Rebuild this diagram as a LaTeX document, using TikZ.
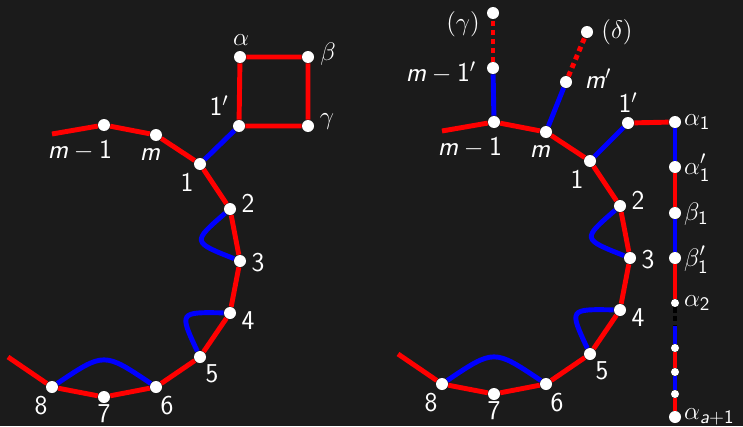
\documentclass[tikz,border=0pt]{standalone}
\usepackage{amsmath}
\usepackage{tikz}
\usetikzlibrary{positioning}
\definecolor{bgdark}{RGB}{27,27,27}
\newcommand\vm{\textsf{\itshape m}}
\newcommand\va{\textsf{\itshape a}}
\newcommand\one{\textsf{1}}

\begin{document}
\begin{tikzpicture}[
  x=0.02cm, y=-0.02cm,
  dot/.style={circle, fill=white, minimum size=0.24cm, inner sep=0pt},
  smalldot/.style={circle, fill=white, minimum size=0.16cm, inner sep=0pt},
  redline/.style={red, line width=2.8pt},
  blueline/.style={blue, line width=2.8pt},
  dotline/.style={red, line width=2.8pt, dash pattern=on 0.1cm off 0.08cm},
  lbl/.style={text=white, font=\fontsize{15.5}{18}\selectfont\sffamily, inner sep=1pt},
]
  \fill[bgdark] (0,0) rectangle (743,426);
  \useasboundingbox (0,0) rectangle (743,426);
  % the chain m-1, m, 1..8 with its blue loops; L on the left, R shifted right
  \foreach \p/\dx/\dy in {L/0/0, R/390/-3} {
    \begin{scope}[shift={(\dx,\dy)}]
      \coordinate (\p a) at (52,134);
      \coordinate (\p b) at (8,357);
      \foreach \n/\x/\y in {m1/104/125, m/156/135, 1/200/164, 2/230/209, 3/240/261,
                            4/230/313, 5/200/357, 6/156/387, 7/104/397, 8/52/387}
        \node[dot] (\p\n) at (\x,\y) {};
      \draw[redline] (\p a) -- (\p m1) -- (\p m) -- (\p 1) -- (\p 2) -- (\p 3) -- (\p 4)
        -- (\p 5) -- (\p 6) -- (\p 7) -- (\p 8) -- (\p b);
      \draw[blueline] (\p 2) .. controls (192,242) .. (\p 3);
      \draw[blueline] (\p 5) .. controls (179,312) .. (\p 4);
      \draw[blueline] (\p 8) .. controls (104,352) .. (\p 6);
      \foreach \n/\x/\y/\t in {m1/80/150/{\vm${}-{}$\one}, m/150/155/{\vm}, 1/187/182/{\one},
                               2/248/203/{2}, 3/258/263/{3}, 4/248/321/{4}, 5/212/374/{5},
                               6/167/406/{6}, 7/104/414/{7}, 8/41/406/{8}}
        \node[lbl] (\p t\n) at (\x,\y) {\t};
    \end{scope}
  }
  % left: the square on 1'
  \node[dot] (L1p) at (239,126) {};
  \node[dot] (Lal) at (240,57) {};
  \node[dot] (Lbe) at (308,57) {};
  \node[dot] (Lga) at (308,126) {};
  \draw[blueline] (L1) -- (L1p);
  \draw[redline] (L1p) -- (Lal) -- (Lbe) -- (Lga) -- (L1p);
  \node[lbl] (Lt1p) at (219,106) {\one$'$};
  \node[lbl] (Ltal) at (241,40) {$\alpha$};
  \node[lbl] (Ltbe) at (328,54) {$\beta$};
  \node[lbl] (Ltga) at (327,122) {$\gamma$};
  % right: the two dotted arms
  \node[dot] (Rm1p) at (493,68) {};
  \node[dot] (Rga) at (493,13) {};
  \node[dot] (Rmp) at (566,82) {};
  \node[dot] (Rde) at (587,32) {};
  \draw[blueline] (Rm1) -- (Rm1p);
  \draw[dotline] (Rm1p) -- (Rga);
  \draw[blueline] (Rm) -- (Rmp);
  \draw[dotline] (Rmp) -- (Rde);
  \node[lbl] (Rtm1p) at (441,73) {\vm${}-{}$\one$'$};
  \node[lbl] (Rtga) at (463,24) {$(\gamma)$};
  \node[lbl] (Rtmp) at (598,79) {\vm$'$};
  \node[lbl] (Rtde) at (617,32) {$(\delta)$};
  % right: the long path from 1'
  \node[dot] (R1p) at (628,123) {};
  \node[dot] (Ra1) at (675,122) {};
  \node[dot] (Ra1p) at (675,167) {};
  \node[dot] (Rb1) at (675,213) {};
  \node[dot] (Rb1p) at (675,258) {};
  \node[smalldot] (Ra2) at (675,303) {};
  \coordinate (Rgap) at (675,326);
  \node[smalldot] (Rd1) at (675,348) {};
  \node[smalldot] (Rd2) at (675,372) {};
  \node[smalldot] (Rd3) at (675,394) {};
  \node[dot] (Raa) at (675,417) {};
  \draw[blueline] (R1) -- (R1p);
  \draw[redline] (R1p) -- (Ra1);
  \draw[blueline] (Ra1) -- (Ra1p);
  \draw[redline] (Ra1p) -- (Rb1);
  \draw[blueline] (Rb1) -- (Rb1p);
  \draw[redline] (Rb1p) -- (Ra2);
  \draw[black, line width=2pt, dash pattern=on 3pt off 2pt] (Ra2) -- (Rgap);
  \draw[blueline] (Rgap) -- (Rd1);
  \draw[redline] (Rd1) -- (Rd2);
  \draw[blueline] (Rd2) -- (Rd3);
  \draw[redline] (Rd3) -- (Raa);
  \node[lbl] (Rt1p) at (628,103) {\one$'$};
  \node[lbl, anchor=west] (Rta1) at (682,122) {$\alpha_{\one}$};
  \node[lbl, anchor=west] (Rta1p) at (682,168) {$\alpha'_{\one}$};
  \node[lbl, anchor=west] (Rtb1) at (682,214) {$\beta_{\one}$};
  \node[lbl, anchor=west] (Rtb1p) at (682,260) {$\beta'_{\one}$};
  \node[lbl, anchor=west] (Rta2) at (682,303) {$\alpha_{\textsf{2}}$};
  \node[lbl, anchor=west] (Rtaa) at (682,417) {$\alpha_{\va+\one}$};
\end{tikzpicture}
\end{document}
